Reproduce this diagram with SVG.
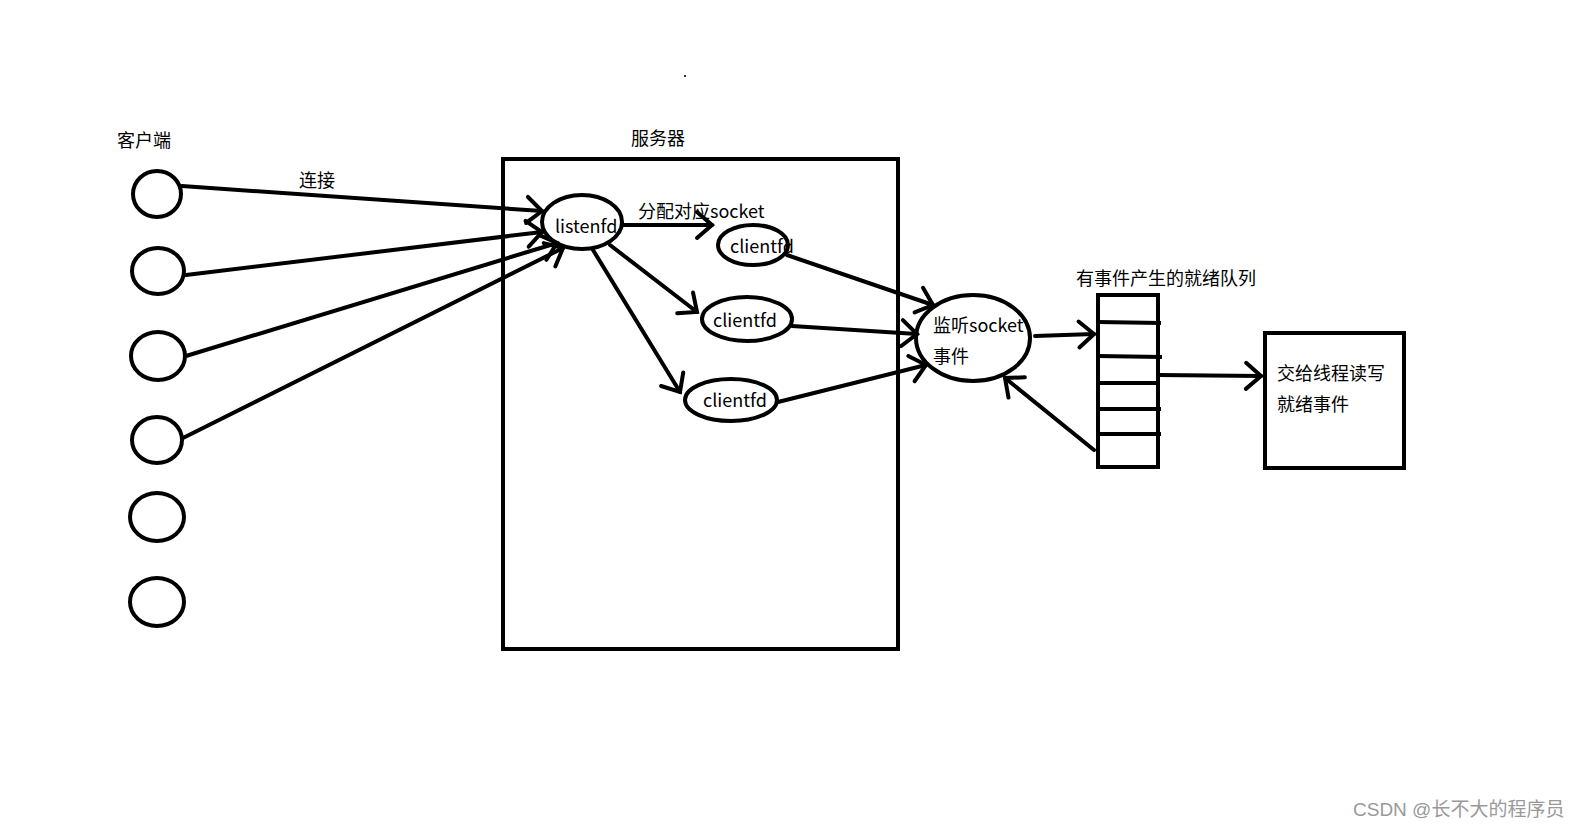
<svg xmlns="http://www.w3.org/2000/svg" width="1579" height="827" viewBox="0 0 1579 827">
<style>
.s{fill:none;stroke:#000;stroke-width:4}
.t{font-family:"Noto Sans CJK SC","Liberation Sans",sans-serif;font-size:18px;fill:#000}
.c{fill:none;stroke:#000;stroke-width:4;stroke-linecap:round}
</style>
<defs>
<marker id="ah" viewBox="-20 -20 40 40" refX="0" refY="0" markerWidth="40" markerHeight="40" markerUnits="userSpaceOnUse" orient="auto" overflow="visible">
<path d="M-15,-13 L0,0 L-15,13" fill="none" stroke="#000" stroke-width="4" stroke-linecap="round" stroke-linejoin="miter"/>
</marker>
</defs>
<rect width="1579" height="827" fill="#fff"/>
<rect x="684" y="75" width="2" height="2" fill="#333"/>
<text class="t" x="117" y="147">客户端</text>
<text class="t" x="631" y="145">服务器</text>
<text class="t" x="299" y="187">连接</text>
<text class="t" x="638" y="218">分配对应socket</text>
<g id="client1"><ellipse class="s" cx="157" cy="194" rx="24" ry="23"/></g>
<g id="client2"><ellipse class="s" cx="158" cy="271" rx="26" ry="23"/></g>
<g id="client3"><ellipse class="s" cx="158" cy="356" rx="27" ry="24"/></g>
<g id="client4"><ellipse class="s" cx="157" cy="440" rx="25" ry="23"/></g>
<g id="client5"><ellipse class="s" cx="157" cy="517" rx="27" ry="24"/></g>
<g id="client6"><ellipse class="s" cx="157" cy="602" rx="27" ry="24"/></g>
<g id="server"><rect class="s" x="503" y="159" width="395" height="490"/></g>
<g id="listenfd"><ellipse class="s" cx="582" cy="222" rx="40" ry="27"/><text class="t" x="555" y="233">listenfd</text></g>
<g id="clientfd1"><ellipse class="s" cx="753" cy="245" rx="35" ry="20"/><text class="t" x="730" y="253">clientfd</text></g>
<g id="clientfd2"><ellipse class="s" cx="747" cy="319" rx="45" ry="22"/><text class="t" x="713" y="327">clientfd</text></g>
<g id="clientfd3"><ellipse class="s" cx="731" cy="400" rx="46" ry="21"/><text class="t" x="703" y="407">clientfd</text></g>
<g id="monitor"><ellipse class="s" cx="973" cy="338" rx="57" ry="43"/><text class="t" x="933" y="332">监听socket</text><text class="t" x="933" y="363">事件</text></g>
<g id="queue">
<text class="t" x="1076" y="285">有事件产生的就绪队列</text>
<rect class="s" x="1098" y="295" width="60" height="172"/>
<path class="s" d="M1098,322 L1161,323 M1098,356 L1162,357 M1098,383 L1160,383 M1098,409 L1161,409 M1098,434 L1161,434"/>
</g>
<g id="worker"><rect class="s" x="1265" y="333" width="139" height="135"/><text class="t" x="1277" y="380">交给线程读写</text><text class="t" x="1277" y="411">就绪事件</text></g>
<g id="connectors">
<line class="c" x1="182" y1="186" x2="542" y2="211" marker-end="url(#ah)"/>
<line class="c" x1="186" y1="275" x2="542" y2="232" marker-end="url(#ah)"/>
<line class="c" x1="186" y1="356" x2="557" y2="243" marker-end="url(#ah)"/>
<line class="c" x1="183" y1="438" x2="563" y2="248" marker-end="url(#ah)"/>
<line class="c" x1="623" y1="225" x2="712" y2="225" marker-end="url(#ah)"/>
<line class="c" x1="610" y1="245" x2="697" y2="312" marker-end="url(#ah)"/>
<line class="c" x1="593" y1="250" x2="680" y2="392" marker-end="url(#ah)"/>
<line class="c" x1="787" y1="255" x2="933" y2="305" marker-end="url(#ah)"/>
<line class="c" x1="792" y1="326" x2="917" y2="334" marker-end="url(#ah)"/>
<line class="c" x1="778" y1="402" x2="926" y2="365" marker-end="url(#ah)"/>
<line class="c" x1="1035" y1="336" x2="1094" y2="334" marker-end="url(#ah)"/>
<line class="c" x1="1094" y1="450" x2="1005" y2="378" marker-end="url(#ah)"/>
<line class="c" x1="1158" y1="375" x2="1261" y2="376" marker-end="url(#ah)"/>
</g>
<text x="1353" y="816" style="font-family:'Liberation Sans','Noto Sans CJK SC',sans-serif;font-size:19px;fill:#999">CSDN @长不大的程序员</text>
</svg>
